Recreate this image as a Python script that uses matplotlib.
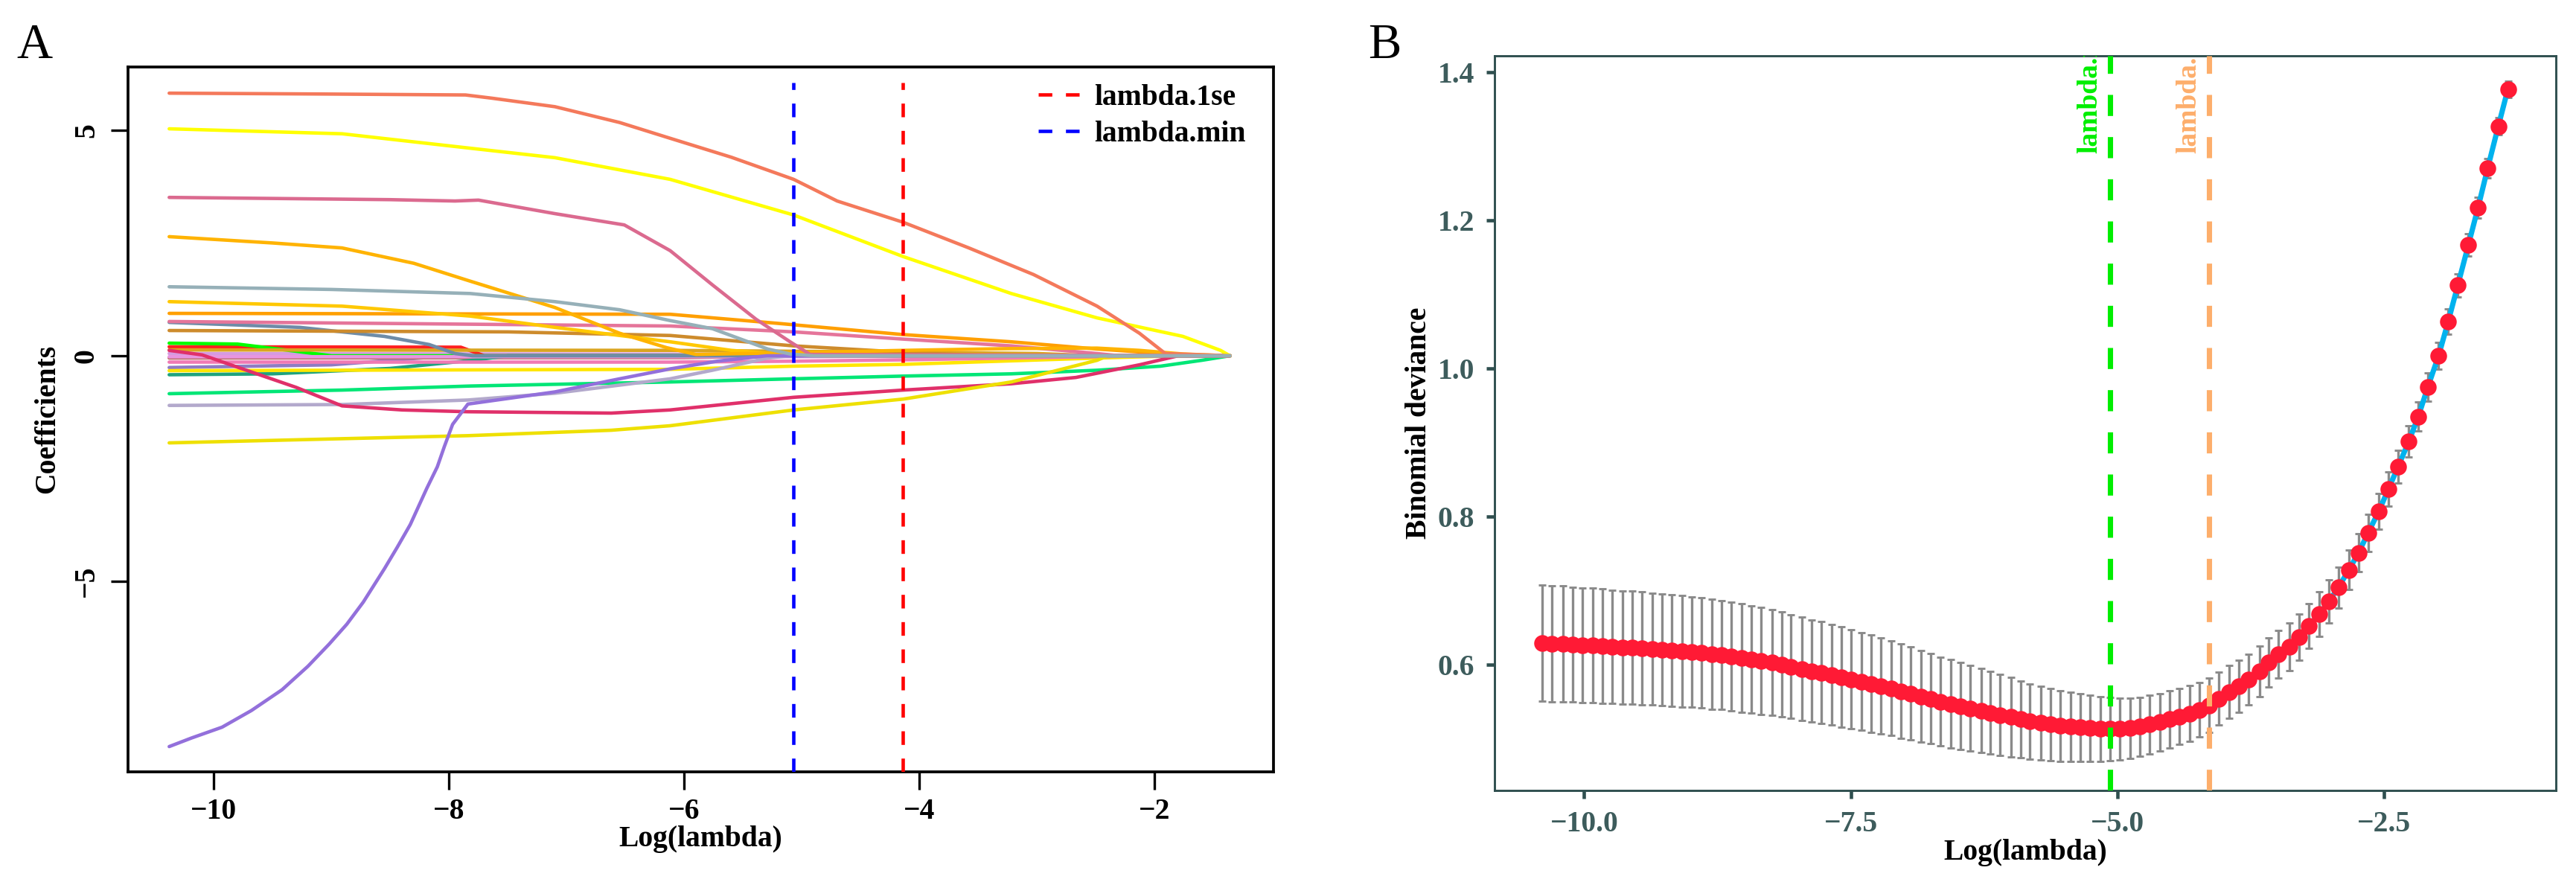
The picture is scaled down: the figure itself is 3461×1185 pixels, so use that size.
import matplotlib
matplotlib.use("Agg")
import matplotlib.pyplot as plt
from matplotlib.lines import Line2D

plt.rcParams['font.family'] = ['Liberation Serif', 'DejaVu Serif']

# ---------------- Panel A data: coefficient paths (log lambda, coefficient) ----------------
path_coral = [(-10.38, 5.82), (-9.0, 5.80), (-7.86, 5.78), (-7.64, 5.71), (-7.10, 5.52), (-6.55, 5.17),
              (-6.12, 4.82), (-5.6, 4.40), (-5.07, 3.91), (-4.70, 3.43), (-4.14, 2.96), (-3.58, 2.39),
              (-3.03, 1.80), (-2.49, 1.10), (-2.13, 0.50), (-1.91, 0.05), (-1.36, 0.0)]
path_yellow = [(-10.38, 5.03), (-8.91, 4.92), (-7.82, 4.60), (-7.10, 4.39), (-6.12, 3.91), (-5.07, 3.12),
               (-4.14, 2.20), (-3.22, 1.38), (-2.49, 0.84), (-1.76, 0.43), (-1.44, 0.12), (-1.36, 0.0)]
path_rose = [(-10.38, 3.51), (-8.5, 3.46), (-7.95, 3.43), (-7.75, 3.45), (-7.10, 3.15), (-6.51, 2.90),
             (-6.12, 2.33), (-5.76, 1.57), (-5.39, 0.81), (-5.10, 0.31), (-4.93, 0.03), (-1.36, 0.0)]
path_orange = [(-10.38, 2.64), (-9.5, 2.50), (-8.91, 2.39), (-8.3, 2.05), (-7.84, 1.67), (-7.10, 1.07),
               (-6.55, 0.50), (-6.15, 0.18), (-5.9, 0.03), (-5.07, 0.07), (-4.14, 0.12), (-3.22, 0.16),
               (-2.49, 0.17), (-2.13, 0.12), (-1.76, 0.04), (-1.36, 0.0)]
path_gold = [(-10.38, 1.20), (-8.91, 1.10), (-7.82, 0.88), (-7.10, 0.63), (-6.12, 0.31), (-5.6, 0.12),
             (-5.2, 0.04), (-4.8, 0.0), (-1.36, 0.0)]
path_darkorange = [(-10.38, 0.94), (-6.12, 0.92), (-5.21, 0.72), (-4.14, 0.47), (-3.22, 0.31),
                   (-2.49, 0.15), (-1.76, 0.02), (-1.36, 0.0)]
path_pink = [(-10.38, 0.76), (-6.12, 0.66), (-5.07, 0.53), (-4.14, 0.37), (-3.22, 0.22), (-2.49, 0.05),
             (-2.3, 0.0), (-1.36, 0.0)]
path_steel = [(-10.38, 0.74), (-9.27, 0.63), (-8.55, 0.43), (-8.17, 0.25), (-7.95, 0.05), (-7.8, 0.0),
              (-1.36, 0.0)]
path_brown = [(-10.38, 0.56), (-7.5, 0.53), (-6.12, 0.45), (-5.07, 0.22), (-4.14, 0.08), (-3.6, 0.02),
              (-3.4, 0.0), (-1.36, 0.0)]
path_greyblue = [(-10.38, 1.53), (-9.0, 1.47), (-7.82, 1.38), (-7.10, 1.20), (-6.55, 1.02), (-6.12, 0.78),
                 (-5.76, 0.60), (-5.29, 0.15), (-5.1, 0.04), (-4.9, 0.0), (-1.36, 0.0)]
path_green = [(-10.38, -0.84), (-8.91, -0.76), (-7.82, -0.67), (-6.12, -0.58), (-5.07, -0.51),
              (-4.14, -0.45), (-3.22, -0.40), (-2.49, -0.32), (-1.95, -0.23), (-1.60, -0.10), (-1.36, 0.0)]
path_lavender = [(-10.38, -1.10), (-8.91, -1.08), (-7.84, -0.98), (-7.10, -0.83), (-6.12, -0.51),
                 (-5.76, -0.32), (-5.29, -0.05), (-5.1, 0.0), (-1.36, 0.0)]
path_crimson = [(-10.38, 0.12), (-10.1, 0.02), (-9.79, -0.26), (-9.3, -0.70), (-8.91, -1.11), (-8.4, -1.20),
                (-7.84, -1.24), (-6.62, -1.27), (-6.12, -1.20), (-5.07, -0.92), (-4.14, -0.76),
                (-3.22, -0.62), (-2.67, -0.48), (-2.13, -0.20), (-1.80, 0.0), (-1.36, 0.0)]
path_purple = [(-10.38, -8.66), (-10.19, -8.47), (-9.93, -8.23), (-9.68, -7.86), (-9.42, -7.40),
               (-9.20, -6.88), (-9.02, -6.39), (-8.87, -5.95), (-8.73, -5.46), (-8.55, -4.72),
               (-8.44, -4.24), (-8.33, -3.74), (-8.19, -2.94), (-8.10, -2.46), (-8.04, -2.01),
               (-7.97, -1.52), (-7.84, -1.07), (-7.10, -0.80), (-6.55, -0.51), (-6.12, -0.29),
               (-5.72, -0.12), (-5.3, 0.0), (-1.36, 0.0)]
path_yellow2 = [(-10.38, -1.93), (-7.84, -1.77), (-6.62, -1.65), (-6.12, -1.55), (-5.07, -1.20),
                (-4.14, -0.96), (-3.22, -0.58), (-2.49, -0.10), (-2.4, 0.0), (-1.36, 0.0)]
path_yellow3 = [(-10.38, -0.33), (-6.12, -0.30), (-5.07, -0.23), (-4.14, -0.19), (-2.49, -0.05),
                (-1.8, 0.0), (-1.36, 0.0)]
path_lime = [(-10.38, 0.28), (-9.8, 0.26), (-9.3, 0.10), (-9.0, 0.0), (-1.36, 0.0)]
path_red = [(-10.38, 0.20), (-7.9, 0.19), (-7.7, 0.0), (-1.36, 0.0)]
path_teal = [(-10.38, -0.42), (-9.5, -0.40), (-8.5, -0.28), (-7.8, -0.10), (-7.5, 0.0), (-1.36, 0.0)]
path_goldenrod = [(-10.38, 0.13), (-6.12, 0.12), (-5.07, 0.10), (-4.14, 0.08), (-3.0, 0.05), (-2.5, 0.0),
                  (-1.36, 0.0)]
path_violet = [(-10.38, -0.02), (-5.07, -0.02), (-3.5, 0.0), (-1.36, 0.0)]
path_hotpink = [(-10.38, -0.14), (-6.12, -0.14), (-5.07, -0.12), (-4.14, -0.09), (-3.22, -0.05),
                (-2.49, -0.02), (-2.0, 0.0), (-1.36, 0.0)]
path_orchid = [(-10.38, 0.05), (-4.0, 0.03), (-3.0, 0.0), (-1.36, 0.0)]
path_rosybrown = [(-10.38, -0.05), (-6.0, -0.04), (-5.0, 0.0), (-1.36, 0.0)]
path_slate = [(-10.38, -0.26), (-9.0, -0.20), (-8.0, 0.0), (-1.36, 0.0)]

coef_paths = [path_slate, path_rosybrown, path_orchid, path_red, path_lime, path_teal, path_goldenrod,
              path_yellow3, path_hotpink, path_violet, path_steel, path_brown, path_pink, path_darkorange,
              path_gold, path_orange, path_green, path_lavender, path_crimson, path_yellow2, path_purple,
              path_rose, path_yellow, path_coral, path_greyblue]
coef_colors = ['#8E7CC3', '#C07070', '#D59BE0', '#FF2020', '#00FF00', '#1FA37E', '#DAA520',
               '#FFE600', '#F07AB4', '#E895E0', '#6E8CA8', '#CD8B2C', '#E5759A', '#FF9F00',
               '#FFC800', '#FFB300', '#00E676', '#B3A9CC', '#E0306A', '#EEE000', '#9370DB',
               '#DB6A8F', '#FFFF00', '#F4795B', '#96B0B8']

log_lambda_min = -5.07
log_lambda_1se = -4.14

# ---------------- Panel B data: cross-validation curve ----------------
cv_log_lambda = [-10.39, -10.30, -10.20, -10.11, -10.02, -9.92, -9.83, -9.74, -9.64, -9.55,
                 -9.46, -9.36, -9.27, -9.18, -9.08, -8.99, -8.90, -8.80, -8.71, -8.62,
                 -8.52, -8.43, -8.34, -8.24, -8.15, -8.06, -7.96, -7.87, -7.78, -7.68,
                 -7.59, -7.50, -7.40, -7.31, -7.22, -7.12, -7.03, -6.94, -6.84, -6.75,
                 -6.66, -6.56, -6.47, -6.38, -6.28, -6.19, -6.10, -6.00, -5.91, -5.82,
                 -5.72, -5.63, -5.54, -5.44, -5.35, -5.26, -5.16, -5.07, -4.98, -4.88,
                 -4.79, -4.70, -4.60, -4.51, -4.42, -4.32, -4.23, -4.14, -4.05, -3.95,
                 -3.86, -3.77, -3.67, -3.58, -3.49, -3.39, -3.30, -3.21, -3.11, -3.02,
                 -2.93, -2.83, -2.74, -2.65, -2.55, -2.46, -2.37, -2.27, -2.18, -2.09,
                 -1.99, -1.90, -1.81, -1.71, -1.62, -1.53, -1.43, -1.34]
cv_mean = [0.629, 0.628, 0.628, 0.627, 0.626, 0.626, 0.625, 0.624, 0.623, 0.623,
           0.622, 0.621, 0.620, 0.619, 0.618, 0.617, 0.616, 0.614, 0.613, 0.611,
           0.609, 0.607, 0.605, 0.603, 0.600, 0.597, 0.594, 0.591, 0.589, 0.586,
           0.583, 0.580, 0.577, 0.574, 0.571, 0.568, 0.564, 0.561, 0.557, 0.554,
           0.550, 0.547, 0.544, 0.541, 0.538, 0.535, 0.532, 0.529, 0.526, 0.523,
           0.521, 0.519, 0.517, 0.516, 0.515, 0.514, 0.513, 0.513, 0.513, 0.514,
           0.516, 0.519, 0.522, 0.526, 0.530, 0.534, 0.539, 0.545, 0.554, 0.563,
           0.571, 0.580, 0.591, 0.603, 0.614, 0.624, 0.637, 0.652, 0.668, 0.685,
           0.704, 0.728, 0.751, 0.778, 0.807, 0.837, 0.867, 0.901, 0.935, 0.975,
           1.017, 1.063, 1.112, 1.167, 1.217, 1.270, 1.327, 1.377]
cv_se = [0.078, 0.078, 0.078, 0.077, 0.077, 0.077, 0.077, 0.076, 0.076, 0.076,
         0.076, 0.075, 0.075, 0.075, 0.075, 0.074, 0.074, 0.074, 0.073, 0.073,
         0.073, 0.072, 0.072, 0.071, 0.071, 0.070, 0.070, 0.069, 0.069, 0.068,
         0.068, 0.067, 0.066, 0.066, 0.065, 0.064, 0.064, 0.063, 0.062, 0.061,
         0.060, 0.060, 0.059, 0.058, 0.057, 0.056, 0.055, 0.054, 0.052, 0.051,
         0.050, 0.049, 0.048, 0.047, 0.046, 0.045, 0.044, 0.043, 0.042, 0.041,
         0.040, 0.040, 0.039, 0.039, 0.038, 0.038, 0.037, 0.037, 0.036, 0.036,
         0.035, 0.034, 0.034, 0.033, 0.032, 0.032, 0.031, 0.030, 0.030, 0.029,
         0.028, 0.027, 0.026, 0.025, 0.024, 0.023, 0.022, 0.021, 0.020, 0.019,
         0.018, 0.017, 0.016, 0.015, 0.014, 0.013, 0.012, 0.011]

a_xticks = [-10, -8, -6, -4, -2]
a_yticks = [-5, 0, 5]
b_xticks = [-10.0, -7.5, -5.0, -2.5]
b_yticks = [0.6, 0.8, 1.0, 1.2, 1.4]

# ---------------- Figure ----------------
W, H = 3462, 1185
DPI = 300
fig = plt.figure(figsize=(W / DPI, H / DPI), dpi=DPI)

def px_box(x0, y0, x1, y1):
    return [x0 / W, 1 - y1 / H, (x1 - x0) / W, (y1 - y0) / H]

# ---- Panel A ----
axA = fig.add_axes(px_box(172, 90, 1711, 1037))
for pts, col in zip(coef_paths, coef_colors):
    xs = [p[0] for p in pts]
    ys = [p[1] for p in pts]
    axA.plot(xs, ys, color=col, lw=1.1, solid_joinstyle='round', solid_capstyle='round', zorder=2)

a_ylim = (-9.22, 6.40)
axA.set_xlim(-10.73, -0.99)
axA.set_ylim(*a_ylim)
vtop = 6.06
axA.plot([log_lambda_1se, log_lambda_1se], [a_ylim[0], vtop], color='#FF0000', lw=1.1,
         ls=(0, (4, 4)), zorder=4)
axA.plot([log_lambda_min, log_lambda_min], [a_ylim[0], vtop], color='#0000FF', lw=1.1,
         ls=(0, (4, 4)), zorder=4)

axA.set_xticks(a_xticks)
axA.set_yticks(a_yticks)
axA.set_xticklabels([f"{v:d}".replace('-', '\u2212') for v in a_xticks])
axA.set_yticklabels([f"{v:d}".replace('-', '\u2212') for v in a_yticks], rotation=90, va='center')
axA.tick_params(axis='x', length=5.8, width=0.8, pad=2.6, labelsize=9.5, direction='out')
axA.tick_params(axis='y', length=5.5, width=0.8, pad=3.4, labelsize=9.5, direction='out')
for lab in axA.get_xticklabels() + axA.get_yticklabels():
    lab.set_fontweight('bold')
for sp in axA.spines.values():
    sp.set_linewidth(0.9)
    sp.set_color('black')

leg_handles = [Line2D([0], [0], color='#FF0000', lw=1.1, ls=(0, (4, 4))),
               Line2D([0], [0], color='#0000FF', lw=1.1, ls=(0, (4, 4)))]
fig.legend(leg_handles, ['lambda.1se', 'lambda.min'], loc='upper left',
           bbox_to_anchor=(1395 / W, 1 - 113 / H), bbox_transform=fig.transFigure,
           frameon=False, borderpad=0, borderaxespad=0, handlelength=1.45, handletextpad=0.45,
           labelspacing=0.3, prop={'weight': 'bold', 'size': 9.5, 'family': 'Liberation Serif'})

fig.text(46 / W, 1 - 78 / H, 'A', ha='center', va='baseline', fontsize=16)
fig.text(64 / W, 1 - 563 / H, 'Coefficients', rotation=90, ha='center', va='center',
         fontsize=9.5, fontweight='bold')
fig.text(941 / W, 1 - 1128 / H, 'Log(lambda)', ha='center', va='center', fontsize=9.5,
         fontweight='bold')

# ---- Panel B ----
slate = '#2F4F4F'
slate_txt = '#3D5C5C'
axB = fig.add_axes(px_box(2008, 75, 3434, 1062))
eb = axB.errorbar(cv_log_lambda, cv_mean, yerr=cv_se, fmt='none', ecolor='#8A8A8A',
                  elinewidth=0.8, capsize=1.1, capthick=0.7, zorder=2)
for cap in eb[1]:
    cap.set_color('#3A3A3A')
axB.plot(cv_log_lambda, cv_mean, color='#00B2EE', lw=1.7, zorder=3)
axB.plot(cv_log_lambda, cv_mean, 'o', color='#FF1A35', ms=5.4, mec='none', zorder=4)
axB.axvline(log_lambda_min, color='#00EE00', lw=1.7, ls=(0, (4, 4)), zorder=5)
axB.axvline(log_lambda_1se, color='#FDAE6B', lw=1.7, ls=(0, (4, 4)), zorder=5)
axB.set_xlim(-10.84, -0.89)
axB.set_ylim(0.43, 1.422)

t1 = axB.text(log_lambda_min - 0.07, 1.29, 'lambda.min', rotation=90, ha='right', va='bottom',
              color='#00EE00', fontsize=9, fontweight='bold', zorder=6)
t2 = axB.text(log_lambda_1se - 0.07, 1.29, 'lambda.1se', rotation=90, ha='right', va='bottom',
              color='#FDAE6B', fontsize=9, fontweight='bold', zorder=6)
t1.set_clip_on(True)
t2.set_clip_on(True)

axB.set_xticks(b_xticks)
axB.set_yticks(b_yticks)
axB.set_xticklabels([f"{v:.1f}".replace('-', '\u2212') for v in b_xticks])
axB.set_yticklabels([f"{v:.1f}" for v in b_yticks])
axB.tick_params(axis='both', length=2.7, width=1.1, color=slate, labelcolor=slate_txt,
                labelsize=9.5, direction='out')
axB.tick_params(axis='x', pad=3.8)
axB.tick_params(axis='y', pad=3.8)
for lab in axB.get_xticklabels() + axB.get_yticklabels():
    lab.set_fontweight('bold')
for sp in axB.spines.values():
    sp.set_linewidth(0.7)
    sp.set_color(slate)

fig.text(1860 / W, 1 - 78 / H, 'B', ha='center', va='baseline', fontsize=16)
fig.text(1906 / W, 1 - 568 / H, 'Binomial deviance', rotation=90, ha='center', va='center',
         fontsize=9.5, fontweight='bold')
fig.text(2721 / W, 1 - 1145 / H, 'Log(lambda)', ha='center', va='center', fontsize=9.5,
         fontweight='bold')

fig.savefig('out.png', dpi=DPI)
